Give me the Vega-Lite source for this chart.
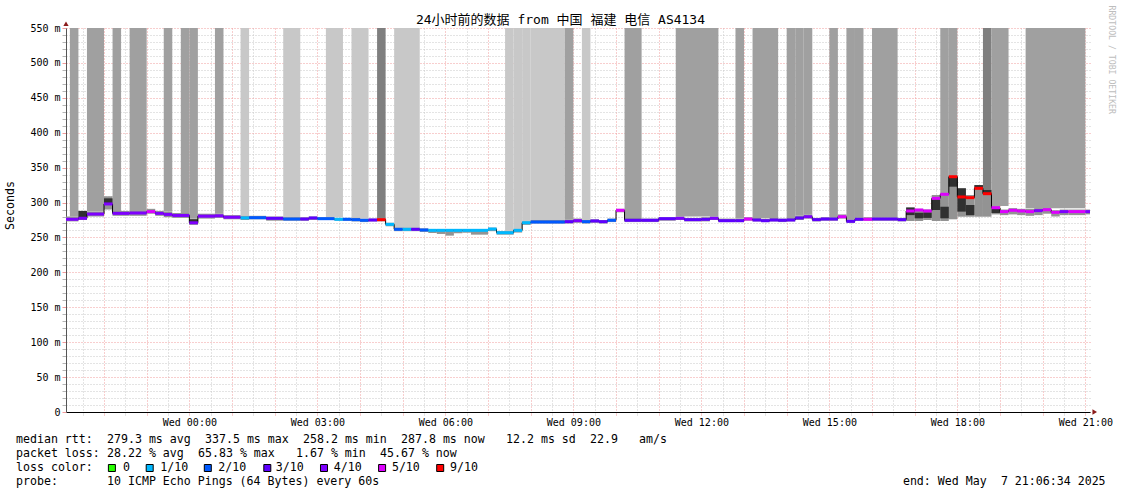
{
  "$schema": "https://vega.github.io/schema/vega-lite/v6.json",
  "background": "white",
  "padding": {"left": 4, "top": 5, "right": 4, "bottom": 1},
  "config": {"view": {"stroke": null}, "font": "DejaVu Sans Mono"},
  "spacing": 6,
  "resolve": {"scale": {"x": "independent", "y": "independent"}},
  "datasets": {
    "segs": [
      {"s":-2.891,"e":-2.6,"m":276,"l":"4/10","lo":273,"hi":280},
      {"s":-2.6,"e":-2.4,"m":277.5,"l":"4/10","lo":275,"hi":288,"lo2":276,"hi2":288},
      {"s":-2.4,"e":-2.0,"m":283.5,"l":"4/10","lo":280,"hi":287},
      {"s":-2.0,"e":-1.8,"m":298,"l":"4/10","lo":290,"hi":309,"lo2":299,"hi2":306},
      {"s":-1.8,"e":-1.4,"m":284.5,"l":"4/10","lo":281,"hi":288},
      {"s":-1.4,"e":-1.0,"m":285,"l":"4/10","lo":281,"hi":288},
      {"s":-1.0,"e":-0.8,"m":287,"l":"5/10","lo":284,"hi":291},
      {"s":-0.8,"e":-0.6,"m":284.5,"l":"4/10","lo":281,"hi":288},
      {"s":-0.6,"e":-0.4,"m":283,"l":"4/10","lo":279,"hi":287},
      {"s":-0.4,"e":0,"m":281.5,"l":"4/10","lo":278,"hi":285},
      {"s":0,"e":0.2,"m":271,"l":"4/10","lo":268,"hi":277,"lo2":270,"hi2":276},
      {"s":0.2,"e":0.6,"m":280.5,"l":"4/10","lo":277,"hi":284},
      {"s":0.6,"e":0.8,"m":281,"l":"4/10","lo":278,"hi":284},
      {"s":0.8,"e":1.2,"m":279,"l":"4/10","lo":276,"hi":282},
      {"s":1.2,"e":1.4,"m":278,"l":"1/10","lo":275,"hi":281},
      {"s":1.4,"e":1.8,"m":278.3,"l":"2/10","lo":276,"hi":281},
      {"s":1.8,"e":2.2,"m":277.4,"l":"3/10","lo":274,"hi":280},
      {"s":2.2,"e":2.6,"m":276.4,"l":"2/10","lo":274,"hi":279},
      {"s":2.6,"e":2.8,"m":276.4,"l":"3/10","lo":274,"hi":279},
      {"s":2.8,"e":3.0,"m":277.9,"l":"3/10","lo":275,"hi":280},
      {"s":3.0,"e":3.4,"m":276.9,"l":"2/10","lo":275,"hi":279},
      {"s":3.4,"e":3.6,"m":276,"l":"1/10","lo":274,"hi":278},
      {"s":3.6,"e":3.8,"m":276,"l":"2/10","lo":274,"hi":278},
      {"s":3.8,"e":4.0,"m":275.5,"l":"2/10","lo":273,"hi":278},
      {"s":4.0,"e":4.2,"m":274.6,"l":"2/10","lo":272,"hi":277},
      {"s":4.2,"e":4.4,"m":275,"l":"3/10","lo":273,"hi":277},
      {"s":4.4,"e":4.6,"m":275.5,"l":"9/10","lo":273,"hi":278},
      {"s":4.6,"e":4.8,"m":268.8,"l":"1/10","lo":266,"hi":271},
      {"s":4.8,"e":5.0,"m":261.7,"l":"2/10","lo":259,"hi":264},
      {"s":5.0,"e":5.2,"m":261.7,"l":"1/10","lo":259,"hi":264},
      {"s":5.2,"e":5.4,"m":261.7,"l":"3/10","lo":259,"hi":264},
      {"s":5.4,"e":5.6,"m":260.7,"l":"2/10","lo":258,"hi":263},
      {"s":5.6,"e":5.8,"m":260.2,"l":"1/10","lo":256.4,"hi":262},
      {"s":5.8,"e":6.0,"m":260.2,"l":"1/10","lo":255,"hi":262},
      {"s":6.0,"e":6.2,"m":260.2,"l":"1/10","lo":252.6,"hi":262},
      {"s":6.2,"e":6.4,"m":260.2,"l":"1/10","lo":256,"hi":262},
      {"s":6.4,"e":6.6,"m":260.2,"l":"1/10","lo":256.8,"hi":262},
      {"s":6.6,"e":7.0,"m":260.2,"l":"1/10","lo":254,"hi":262},
      {"s":7.0,"e":7.2,"m":262.1,"l":"1/10","lo":259,"hi":264},
      {"s":7.2,"e":7.6,"m":256.8,"l":"1/10","lo":254,"hi":259},
      {"s":7.6,"e":7.8,"m":260.2,"l":"1/10","lo":257,"hi":262},
      {"s":7.8,"e":8.0,"m":271.1,"l":"1/10","lo":268,"hi":273},
      {"s":8.0,"e":8.8,"m":272.1,"l":"2/10","lo":270,"hi":275},
      {"s":8.8,"e":9.0,"m":272.6,"l":"3/10","lo":270,"hi":276},
      {"s":9.0,"e":9.2,"m":274,"l":"4/10","lo":271,"hi":277},
      {"s":9.2,"e":9.4,"m":272.6,"l":"2/10","lo":270,"hi":275},
      {"s":9.4,"e":9.6,"m":273.6,"l":"3/10","lo":271,"hi":276},
      {"s":9.6,"e":9.8,"m":272.6,"l":"3/10","lo":270,"hi":275},
      {"s":9.8,"e":10.0,"m":274.6,"l":"2/10","lo":272,"hi":277},
      {"s":10.0,"e":10.2,"m":288.9,"l":"5/10","lo":286,"hi":291},
      {"s":10.2,"e":10.6,"m":274.6,"l":"3/10","lo":272,"hi":278},
      {"s":10.6,"e":11.0,"m":274.6,"l":"3/10","lo":272,"hi":277},
      {"s":11.0,"e":11.4,"m":276.9,"l":"3/10","lo":274,"hi":279},
      {"s":11.4,"e":11.6,"m":277.4,"l":"4/10","lo":275,"hi":280},
      {"s":11.6,"e":12.0,"m":275.5,"l":"3/10","lo":273,"hi":278},
      {"s":12.0,"e":12.2,"m":276,"l":"3/10","lo":273,"hi":279},
      {"s":12.2,"e":12.4,"m":277.4,"l":"4/10","lo":275,"hi":280},
      {"s":12.4,"e":12.8,"m":274,"l":"3/10","lo":272,"hi":277},
      {"s":12.8,"e":13.0,"m":274,"l":"3/10","lo":272,"hi":277},
      {"s":13.0,"e":13.2,"m":276.4,"l":"5/10","lo":274,"hi":279},
      {"s":13.2,"e":13.4,"m":275,"l":"3/10","lo":273,"hi":278},
      {"s":13.4,"e":13.6,"m":274,"l":"3/10","lo":272,"hi":277},
      {"s":13.6,"e":13.8,"m":275,"l":"3/10","lo":273,"hi":278},
      {"s":13.8,"e":14.0,"m":274.6,"l":"3/10","lo":272,"hi":277},
      {"s":14.0,"e":14.2,"m":275,"l":"3/10","lo":273,"hi":278},
      {"s":14.2,"e":14.4,"m":277.9,"l":"3/10","lo":275,"hi":281},
      {"s":14.4,"e":14.6,"m":279.7,"l":"4/10","lo":277,"hi":283},
      {"s":14.6,"e":14.8,"m":275.5,"l":"3/10","lo":273,"hi":278},
      {"s":14.8,"e":15.0,"m":276.4,"l":"3/10","lo":274,"hi":279},
      {"s":15.0,"e":15.2,"m":276.4,"l":"3/10","lo":274,"hi":279},
      {"s":15.2,"e":15.4,"m":279.7,"l":"5/10","lo":277,"hi":283},
      {"s":15.4,"e":15.6,"m":273.1,"l":"3/10","lo":271,"hi":276},
      {"s":15.6,"e":15.8,"m":276,"l":"3/10","lo":274,"hi":279},
      {"s":15.8,"e":16.0,"m":276,"l":"5/10","lo":274,"hi":279},
      {"s":16.0,"e":16.6,"m":276.4,"l":"3/10","lo":274,"hi":279},
      {"s":16.6,"e":16.8,"m":275.5,"l":"3/10","lo":273,"hi":278},
      {"s":16.8,"e":17.0,"m":287.9,"l":"5/10","lo":273.6,"hi":292.6,"lo2":282,"hi2":293},
      {"s":17.0,"e":17.2,"m":289.3,"l":"5/10","lo":273.6,"hi":291,"lo2":277.4,"hi2":285.4},
      {"s":17.2,"e":17.4,"m":287.9,"l":"5/10","lo":275,"hi":290,"lo2":278,"hi2":286},
      {"s":17.4,"e":17.6,"m":306,"l":"5/10","lo":273.6,"hi":310.8,"lo2":289.3,"hi2":304.6},
      {"s":17.6,"e":17.8,"m":311.8,"l":"5/10","lo":273.6,"hi":313.2,"lo2":277.4,"hi2":294},
      {"s":17.8,"e":18.0,"m":337,"l":"9/10","lo":276,"hi":338,"lo2":322.7,"hi2":337},
      {"s":18.0,"e":18.2,"m":308,"l":"9/10","lo":279.7,"hi":320.4,"lo2":287,"hi2":320.4},
      {"s":18.2,"e":18.4,"m":307,"l":"9/10","lo":279.7,"hi":310.8,"lo2":282,"hi2":296.5},
      {"s":18.4,"e":18.6,"m":320.4,"l":"9/10","lo":279.7,"hi":325,"lo2":319,"hi2":325},
      {"s":18.6,"e":18.8,"m":312.7,"l":"9/10","lo":279.7,"hi":318,"lo2":311,"hi2":318},
      {"s":18.8,"e":19.0,"m":292.6,"l":"5/10","lo":283,"hi":295,"lo2":285,"hi2":292},
      {"s":19.0,"e":19.2,"m":287,"l":"5/10","lo":282,"hi":290},
      {"s":19.2,"e":19.4,"m":288.9,"l":"5/10","lo":283,"hi":292},
      {"s":19.4,"e":19.6,"m":287.9,"l":"5/10","lo":282,"hi":291},
      {"s":19.6,"e":19.8,"m":287,"l":"5/10","lo":281,"hi":291},
      {"s":19.8,"e":20.0,"m":288.4,"l":"4/10","lo":282,"hi":292},
      {"s":20.0,"e":20.2,"m":289.8,"l":"5/10","lo":284,"hi":292},
      {"s":20.2,"e":20.4,"m":286,"l":"5/10","lo":280,"hi":289},
      {"s":20.4,"e":20.6,"m":287,"l":"4/10","lo":282,"hi":290},
      {"s":20.6,"e":21.0,"m":287,"l":"5/10","lo":282,"hi":290},
      {"s":21.0,"e":21.109,"m":287,"l":"4/10","lo":283,"hi":290}
    ],
    "bars": [
      {"s":-2.8,"e":-2.6,"bottom":280,"shade":"dark"},
      {"s":-2.4,"e":-2.0,"bottom":287,"shade":"dark"},
      {"s":-1.8,"e":-1.6,"bottom":288,"shade":"dark"},
      {"s":-1.4,"e":-1.0,"bottom":288,"shade":"dark"},
      {"s":-0.6,"e":-0.4,"bottom":287,"shade":"dark"},
      {"s":-0.2,"e":0,"bottom":285,"shade":"dark"},
      {"s":0,"e":0.2,"bottom":277,"shade":"dark"},
      {"s":0.6,"e":0.8,"bottom":284,"shade":"dark"},
      {"s":1.2,"e":1.4,"bottom":281,"shade":"light"},
      {"s":2.2,"e":2.6,"bottom":279,"shade":"light"},
      {"s":3.2,"e":3.6,"bottom":279,"shade":"light"},
      {"s":3.8,"e":4.2,"bottom":278,"shade":"light"},
      {"s":4.4,"e":4.6,"bottom":278,"shade":"darkest"},
      {"s":4.8,"e":5.4,"bottom":264,"shade":"light"},
      {"s":7.4,"e":7.6,"bottom":259,"shade":"light"},
      {"s":7.6,"e":7.8,"bottom":262,"shade":"light"},
      {"s":7.8,"e":8.0,"bottom":273,"shade":"light"},
      {"s":8.0,"e":8.8,"bottom":275,"shade":"light"},
      {"s":8.8,"e":9.0,"bottom":276,"shade":"dark"},
      {"s":9.2,"e":9.4,"bottom":275,"shade":"light"},
      {"s":10.2,"e":10.6,"bottom":278,"shade":"dark"},
      {"s":11.4,"e":12.4,"bottom":280,"shade":"dark"},
      {"s":12.8,"e":13.0,"bottom":277,"shade":"dark"},
      {"s":13.2,"e":13.8,"bottom":278,"shade":"dark"},
      {"s":14.0,"e":14.2,"bottom":278,"shade":"dark"},
      {"s":14.2,"e":14.4,"bottom":281,"shade":"dark"},
      {"s":14.4,"e":14.6,"bottom":283,"shade":"dark"},
      {"s":15.0,"e":15.2,"bottom":279,"shade":"dark"},
      {"s":15.4,"e":15.6,"bottom":276,"shade":"dark"},
      {"s":15.6,"e":15.8,"bottom":279,"shade":"dark"},
      {"s":16.0,"e":16.6,"bottom":279,"shade":"dark"},
      {"s":17.6,"e":17.8,"bottom":313,"shade":"dark"},
      {"s":17.8,"e":18.0,"bottom":338,"shade":"dark"},
      {"s":18.6,"e":18.8,"bottom":318,"shade":"darkest"},
      {"s":18.8,"e":19.2,"bottom":295,"shade":"dark"},
      {"s":19.6,"e":21.0,"bottom":292,"shade":"dark"}
    ],
    "arrows": [
      {"t":-2.891,"v":556,"dir":"up"},
      {"t":21.22,"v":0,"dir":"right"}
    ],
    "footer": [
      {"row":0,"col":0,"text":"median rtt:"},
      {"row":0,"col":13,"text":"279.3 ms avg"},
      {"row":0,"col":27,"text":"337.5 ms max"},
      {"row":0,"col":41,"text":"258.2 ms min"},
      {"row":0,"col":55,"text":"287.8 ms now"},
      {"row":0,"col":70,"text":"12.2 ms sd"},
      {"row":0,"col":82,"text":"22.9"},
      {"row":0,"col":89,"text":"am/s"},
      {"row":1,"col":0,"text":"packet loss:"},
      {"row":1,"col":13,"text":"28.22 % avg"},
      {"row":1,"col":26,"text":"65.83 % max"},
      {"row":1,"col":40,"text":"1.67 % min"},
      {"row":1,"col":52,"text":"45.67 % now"},
      {"row":2,"col":0,"text":"loss color:"},
      {"row":2,"col":15.3,"text":"0"},
      {"row":2,"col":20.6,"text":"1/10"},
      {"row":2,"col":28.9,"text":"2/10"},
      {"row":2,"col":37.1,"text":"3/10"},
      {"row":2,"col":45.4,"text":"4/10"},
      {"row":2,"col":53.7,"text":"5/10"},
      {"row":2,"col":62,"text":"9/10"},
      {"row":3,"col":0,"text":"probe:"},
      {"row":3,"col":13,"text":"10 ICMP Echo Pings (64 Bytes) every 60s"},
      {"row":3,"col":126.7,"text":"end: Wed May"},
      {"row":3,"col":140.7,"text":"7 21:06:34 2025"}
    ],
    "legend": [
      {"row":2,"col":13.7,"loss":"0"},
      {"row":2,"col":19.1,"loss":"1/10"},
      {"row":2,"col":27.4,"loss":"2/10"},
      {"row":2,"col":35.9,"loss":"3/10"},
      {"row":2,"col":44,"loss":"4/10"},
      {"row":2,"col":52.3,"loss":"5/10"},
      {"row":2,"col":60.6,"loss":"9/10"}
    ]
  },
  "vconcat": [
    {
      "width": 1024,
      "height": 384,
      "resolve": {"axis": {"x": "independent", "y": "independent"}},
      "layer": [
        {
          "data": {"name": "bars"},
          "mark": {"type": "rect"},
          "encoding": {
            "x": {"field": "s", "type": "quantitative", "scale": {"domain": [-2.891, 21.109], "nice": false, "zero": false},
              "axis": {
                "title": null,
                "values": [-2.5,-2,-1.5,-1,-0.5,0,0.5,1,1.5,2,2.5,3,3.5,4,4.5,5,5.5,6,6.5,7,7.5,8,8.5,9,9.5,10,10.5,11,11.5,12,12.5,13,13.5,14,14.5,15,15.5,16,16.5,17,17.5,18,18.5,19,19.5,20,20.5,21],
                "labelExpr": "datum.value % 3 === 0 ? 'Wed ' + (datum.value < 10 ? '0' : '') + datum.value + ':00' : ''",
                "labelFont": "DejaVu Sans Mono", "labelFontSize": 10, "labelColor": "#000",
                "labelOverlap": false, "labelFlush": false, "labelPadding": 2,
                "grid": true, "gridDash": [1, 2],
                "gridColor": {"condition": {"test": "datum.value % 1 === 0", "value": "#f09c9c"}, "value": "#c8c8c8"},
                "tickSize": 3, "tickDash": [1, 1],
                "tickColor": {"condition": {"test": "datum.value % 1 === 0", "value": "#f09c9c"}, "value": "#c8c8c8"},
                "domainColor": "#000", "domainWidth": 1
              }},
            "x2": {"field": "e"},
            "y": {"field": "bottom", "type": "quantitative", "scale": {"domain": [0, 550], "nice": false, "zero": true},
              "axis": {
                "title": "Seconds", "titleFont": "DejaVu Sans Mono", "titleFontSize": 11.6, "titleFontWeight": "normal",
                "titleColor": "#000", "titlePadding": 14, "titleY": 177,
                "values": [0,10,20,30,40,50,60,70,80,90,100,110,120,130,140,150,160,170,180,190,200,210,220,230,240,250,260,270,280,290,300,310,320,330,340,350,360,370,380,390,400,410,420,430,440,450,460,470,480,490,500,510,520,530,540,550],
                "labelExpr": "datum.value % 50 === 0 ? (datum.value === 0 ? '0\u00a0\u00a0' : datum.value + ' m') : ''",
                "labelFont": "DejaVu Sans Mono", "labelFontSize": 10, "labelColor": "#000",
                "labelOverlap": false, "labelFlush": false, "labelPadding": 2, "tickSize": 4,
                "grid": true, "gridDash": [1, 2],
                "gridColor": {"condition": {"test": "datum.value % 50 === 0", "value": "#f09c9c"}, "value": "#c8c8c8"},
                "tickColor": {"condition": {"test": "datum.value % 50 === 0", "value": "#f09c9c"}, "value": "#b5b5b5"},
                "domainColor": "#555"
              }},
            "y2": {"datum": 550},
            "fill": {"field": "shade", "type": "nominal", "scale": {"domain": ["light", "dark", "darkest"], "range": ["#c8c8c8", "#a0a0a0", "#7f7f7f"]}, "legend": null}
          }
        },
        {
          "data": {"name": "segs"},
          "mark": {"type": "rect", "color": "#939393"},
          "encoding": {
            "x": {"field": "s", "type": "quantitative", "scale": {"domain": [-2.891, 21.109], "nice": false, "zero": false},
              "axis": {"orient": "top", "labels": false, "ticks": false, "domain": false, "grid": false,
                "title": "24小时前的数据 from 中国 福建 电信 AS4134",
                "titleFont": "DejaVu Sans Mono, Noto Sans CJK SC", "titleFontSize": 13, "titleFontWeight": "normal",
                "titleColor": "#000", "titlePadding": 2, "titleX": 494}},
            "x2": {"field": "e"},
            "y": {"field": "lo", "type": "quantitative", "scale": {"domain": [0, 550], "nice": false, "zero": true},
              "axis": {"orient": "right", "labels": false, "ticks": false, "domain": false, "grid": false,
                "title": "RRDTOOL / TOBI OETIKER", "titleAngle": 90, "titleX": 20, "titleY": -23,
                "titleAlign": "left", "titleBaseline": "middle", "titleColor": "#bdbdbd",
                "titleFont": "DejaVu Sans Mono", "titleFontSize": 8.2, "titleFontWeight": "normal"}},
            "y2": {"field": "hi"}
          }
        },
        {
          "data": {"name": "segs"},
          "mark": {"type": "rect", "color": "#303030"},
          "encoding": {
            "x": {"field": "s", "type": "quantitative", "scale": {"domain": [-2.891, 21.109], "nice": false, "zero": false}, "axis": null},
            "x2": {"field": "e"},
            "y": {"field": "lo2", "type": "quantitative", "scale": {"domain": [0, 550], "nice": false, "zero": true}, "axis": null},
            "y2": {"field": "hi2"}
          }
        },
        {
          "data": {"name": "segs"},
          "mark": {"type": "line", "interpolate": "step-after", "color": "#000", "strokeWidth": 1},
          "encoding": {
            "x": {"field": "s", "type": "quantitative", "scale": {"domain": [-2.891, 21.109], "nice": false, "zero": false}, "axis": null},
            "y": {"field": "m", "type": "quantitative", "scale": {"domain": [0, 550], "nice": false, "zero": true}, "axis": null}
          }
        },
        {
          "data": {"name": "segs"},
          "mark": {"type": "rule", "strokeWidth": 3, "strokeCap": "butt"},
          "encoding": {
            "x": {"field": "s", "type": "quantitative", "scale": {"domain": [-2.891, 21.109], "nice": false, "zero": false}, "axis": null},
            "x2": {"field": "e"},
            "y": {"field": "m", "type": "quantitative", "scale": {"domain": [0, 550], "nice": false, "zero": true}, "axis": null},
            "color": {"field": "l", "type": "nominal",
              "scale": {"domain": ["0", "1/10", "2/10", "3/10", "4/10", "5/10", "9/10"],
                "range": ["#26ff00", "#00b8ff", "#0059ff", "#5e00ff", "#7e00ff", "#dd00ff", "#ff0000"]},
              "legend": null}
          }
        },
        {
          "data": {"name": "arrows"},
          "mark": {"type": "point", "filled": true, "size": 28, "color": "#8b1c1c", "opacity": 1},
          "encoding": {
            "x": {"field": "t", "type": "quantitative", "scale": {"domain": [-2.891, 21.109], "nice": false, "zero": false}, "axis": null},
            "y": {"field": "v", "type": "quantitative", "scale": {"domain": [0, 550], "nice": false, "zero": true}, "axis": null},
            "shape": {"field": "dir", "type": "nominal", "scale": {"domain": ["up", "right"], "range": ["triangle-up", "triangle-right"]}, "legend": null}
          }
        }
      ]
    },
    {
      "width": 1024,
      "height": 56,
      "layer": [
        {
          "data": {"name": "footer"},
          "mark": {"type": "text", "align": "left", "baseline": "middle", "font": "DejaVu Sans Mono", "fontSize": 11.6, "color": "#000"},
          "encoding": {
            "x": {"field": "col", "type": "quantitative", "scale": {"domain": [7.143, 153.429], "nice": false, "zero": false}, "axis": null},
            "y": {"field": "row", "type": "quantitative", "scale": {"domain": [-0.5, 3.5], "reverse": true, "nice": false, "zero": false}, "axis": null},
            "text": {"field": "text"}
          }
        },
        {
          "data": {"name": "legend"},
          "mark": {"type": "point", "shape": "square", "filled": true, "size": 49, "stroke": "#000", "strokeWidth": 1, "opacity": 1},
          "encoding": {
            "x": {"field": "col", "type": "quantitative", "scale": {"domain": [7.143, 153.429], "nice": false, "zero": false}, "axis": null},
            "y": {"field": "row", "type": "quantitative", "scale": {"domain": [-0.5, 3.5], "reverse": true, "nice": false, "zero": false}, "axis": null},
            "color": {"field": "loss", "type": "nominal", "legend": null}
          }
        }
      ]
    }
  ]
}
